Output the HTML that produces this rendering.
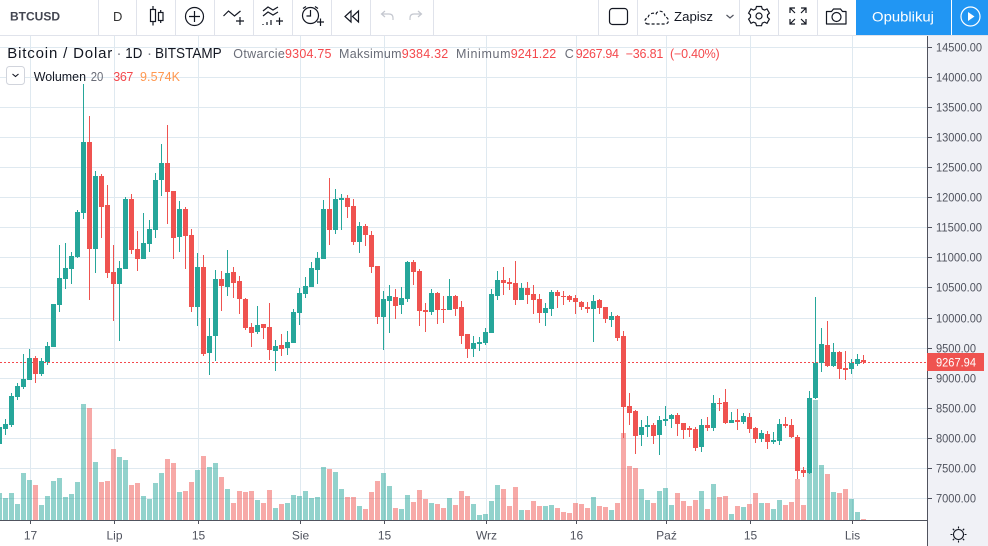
<!DOCTYPE html>
<html lang="pl">
<head>
<meta charset="utf-8">
<title>BTCUSD chart</title>
<style>
html,body{margin:0;padding:0;background:#fff;width:988px;height:546px;overflow:hidden}
svg{display:block;font-family:"Liberation Sans",sans-serif}
.ic{fill:none;stroke:#131722;stroke-width:1.2}
.sep{stroke:#e0e3eb;stroke-width:1}
.lbl{fill:#6a6d78;font-size:12.5px}
.red{fill:#f4494d;font-size:12.5px}
</style>
</head>
<body>
<svg id="chart-root" width="988" height="546" viewBox="0 0 988 546" xmlns="http://www.w3.org/2000/svg">
  <rect x="0" y="0" width="988" height="546" fill="#ffffff"/>
  <g id="grid-layer"></g>
  <g id="volume-layer"></g>
  <line id="last-price-line" x1="0" x2="927" stroke="#f4494d" stroke-width="1" stroke-dasharray="2 2"/>
  <g id="candle-layer"></g>

  <rect x="927" y="36" width="61" height="510" fill="#f0f1f6"/>
  <line x1="927.5" x2="927.5" y1="36" y2="546" stroke="#50535e"/>
  <line x1="0" x2="928" y1="520.5" y2="520.5" stroke="#50535e"/>
  <g id="price-axis-layer"></g>
  <g id="time-axis-layer"></g>
  <g id="last-price-tag">
    <rect x="927" y="353" width="57" height="18" fill="#ef5350"/>
    <text id="last-price-text" x="936" y="366.5" fill="#ffffff" font-size="12" textLength="40" lengthAdjust="spacingAndGlyphs">9267.94</text>
  </g>

  <g class="ic" style="stroke-width:1.1">
    <circle cx="958.5" cy="534.5" r="5"/>
    <path d="M958.5 526.5v2M958.5 540.5v2M950.5 534.5h2M964.5 534.5h2M952.8 528.8l1.4 1.4M962.8 538.8l1.4 1.4M952.8 540.2l1.4-1.4M962.8 530.2l1.4-1.4"/>
  </g>

  <!-- toolbar -->
  <g>
    <rect x="0" y="0" width="988" height="35" fill="#ffffff"/>
    <line x1="0" x2="988" y1="35.5" y2="35.5" class="sep"/>
    <line class="sep" x1="98.5" x2="98.5" y1="0" y2="35"/>
    <line class="sep" x1="136.5" x2="136.5" y1="0" y2="35"/>
    <line class="sep" x1="175.5" x2="175.5" y1="0" y2="35"/>
    <line class="sep" x1="214.5" x2="214.5" y1="0" y2="35"/>
    <line class="sep" x1="253.5" x2="253.5" y1="0" y2="35"/>
    <line class="sep" x1="292.5" x2="292.5" y1="0" y2="35"/>
    <line class="sep" x1="331.5" x2="331.5" y1="0" y2="35"/>
    <line class="sep" x1="370.5" x2="370.5" y1="0" y2="35"/>
    <line class="sep" x1="433.5" x2="433.5" y1="0" y2="35"/>
    <line class="sep" x1="598.5" x2="598.5" y1="0" y2="35"/>
    <line class="sep" x1="637.5" x2="637.5" y1="0" y2="35"/>
    <line class="sep" x1="739.5" x2="739.5" y1="0" y2="35"/>
    <line class="sep" x1="778.5" x2="778.5" y1="0" y2="35"/>
    <line class="sep" x1="817.5" x2="817.5" y1="0" y2="35"/>
  </g>
  <text x="10" y="20.5" font-size="12" font-weight="bold" fill="#434651">BTCUSD</text>
  <text x="113" y="21" font-size="13" fill="#333">D</text>
  <g class="ic">
    <rect x="150.5" y="9.5" width="5" height="12"/><path d="M153 6v3.500M153 21.500v4"/>
    <rect x="158.500" y="12.500" width="4.500" height="8"/><path d="M160.700 10v2.500M160.700 20.500v2.500"/>
  </g>
  <g class="ic">
    <circle cx="194.500" cy="16.500" r="9"/><path d="M194.500 11v11M189 16.500h11"/>
  </g>
  <g class="ic">
    <path d="M223.500 16l5-5 6 5 6-5"/><path d="M240 17v8M236 21h8"/>
  </g>
  <g class="ic">
    <path d="M263 11l5-4 5 3 5-3M263 16l5-4 5 3 5-3"/><path d="M263 25v-1M267 25v-3M271 25v-5M276 21h7M279.500 17.500v7.500"/>
  </g>
  <g class="ic">
    <circle cx="310.500" cy="15.500" r="8"/><path d="M310.500 10v6h-4M303 8.500l3-2M318 8.500l-3-2"/><path d="M317 22h7M320.500 18.500v7.500" />
  </g>
  <g class="ic">
    <path d="M351 11l-6 5.500 6 5.500zM358.500 11l-6 5.500 6 5.500z"/>
  </g>
  <g class="ic" style="stroke:#c4c7cf">
    <path d="M393 20v-2c0-3-2-4-4-4h-7M385 11l-3.500 3 3.500 3"/>
  </g>
  <g class="ic" style="stroke:#c4c7cf">
    <path d="M410 20v-2c0-3 2-4 4-4h7M418 11l3.500 3-3.500 3"/>
  </g>
  <rect x="609.500" y="8.500" width="18" height="16" rx="3" class="ic"/>
  <path d="M648 24c-4 0-4-6 0-6 0-4 5-6 8-4 2-5 9-3 9 3 4 0 5 7 0 7z" class="ic" stroke-dasharray="3 2"/>
  <text x="674" y="21" font-size="13" fill="#131722" textLength="39" lengthAdjust="spacingAndGlyphs">Zapisz</text>
  <path d="M726.500 15l3.500 3 3.500-3" class="ic" style="stroke:#50535e"/>
  <g class="ic">
    <circle cx="759" cy="16" r="3"/>
    <path d="M756.500 6.500h5l.8 2.600 2.300 1 2.400-1.200 2.400 4.200-1.900 1.800v2.400l1.900 1.800-2.400 4.200-2.400-1.200-2.300 1-.8 2.600h-5l-.8-2.600-2.300-1-2.400 1.200-2.400-4.200 1.900-1.800v-2.400l-1.900-1.800 2.400-4.200 2.400 1.200 2.300-1z"/>
  </g>
  <g class="ic">
    <path d="M790 13V8h5M801 8h5v5M790 19v5h5M801 24h5v-5M790.500 8.500l4.500 4.500M805.500 8.500L801 13M790.500 23.500L795 19M805.500 23.500L801 19"/>
  </g>
  <g class="ic">
    <path d="M826.500 11.500h5l2-2.500h7l2 2.500h3.500v12.500h-19.500z" stroke-linejoin="round"/><circle cx="836.500" cy="17" r="4.500"/>
  </g>
  <rect x="856" y="0" width="132" height="35" fill="#2196f3"/>
  <text x="872" y="21.500" font-size="14" fill="#ffffff" textLength="62" lengthAdjust="spacingAndGlyphs">Opublikuj</text>
  <line x1="951.500" x2="951.500" y1="0" y2="35" stroke="#ffffff" stroke-width="1"/>
  <g>
    <circle cx="970.500" cy="16.500" r="9.500" fill="none" stroke="#ffffff" stroke-width="1.200"/>
    <path d="M968 12l6.500 4.500-6.500 4.500z" fill="#ffffff"/>
  </g>

  <!-- legend -->
  <g>
    <text x="7.300" y="58" font-size="15" fill="#131722" textLength="105" lengthAdjust="spacing">Bitcoin / Dolar</text>
    <text x="116.500" y="58" font-size="15" fill="#787b86">·</text>
    <text x="125.300" y="58" font-size="15" fill="#131722" textLength="17" lengthAdjust="spacingAndGlyphs">1D</text>
    <text x="147" y="58" font-size="15" fill="#787b86">·</text>
    <text x="155" y="58" font-size="15" fill="#131722" textLength="66.700" lengthAdjust="spacingAndGlyphs">BITSTAMP</text>
    <text x="233.300" y="58" class="lbl" textLength="51.500" lengthAdjust="spacing">Otwarcie</text>
    <text x="285" y="58" class="red" textLength="46.500" lengthAdjust="spacing">9304.75</text>
    <text x="339" y="58" class="lbl" textLength="62.500" lengthAdjust="spacing">Maksimum</text>
    <text x="401.700" y="58" class="red" textLength="46.500" lengthAdjust="spacing">9384.32</text>
    <text x="456" y="58" class="lbl" textLength="54.500" lengthAdjust="spacing">Minimum</text>
    <text x="510.700" y="58" class="red" textLength="45.500" lengthAdjust="spacing">9241.22</text>
    <text x="564.700" y="58" class="lbl">C</text>
    <text x="575.700" y="58" class="red" textLength="43.300" lengthAdjust="spacing">9267.94</text>
    <text x="625.700" y="58" class="red" textLength="37.600" lengthAdjust="spacing">−36.81</text>
    <text x="670" y="58" class="red" textLength="49.700" lengthAdjust="spacing">(−0.40%)</text>
    <rect x="6.500" y="66.500" width="18" height="18" rx="3" fill="#ffffff" stroke="#d1d4dc"/>
    <path d="M12.500 74l3 2.500 3-2.500" fill="none" stroke="#131722" stroke-width="1.100"/>
    <text x="33.700" y="81" font-size="12.500" fill="#131722" textLength="52.300" lengthAdjust="spacingAndGlyphs">Wolumen</text>
    <text x="90.700" y="81" font-size="12.500" fill="#6a6d78" textLength="12.600" lengthAdjust="spacingAndGlyphs">20</text>
    <text x="113.300" y="81" font-size="12.500" fill="#f4494d" textLength="20" lengthAdjust="spacing">367</text>
    <text x="140" y="81" font-size="12.500" fill="#ff9850" textLength="40" lengthAdjust="spacing">9.574K</text>
  </g>

<script>
const priceTicks = [14500,14000,13500,13000,12500,12000,11500,11000,10500,10000,9500,9000,8500,8000,7500,7000];
const timeTickLabels = ['17','Lip','15','Sie','15','Wrz','16','Paź','15','Lis'];
const timeTickIndices = [5,19,33,50,64,81,96,111,125,142];
const lastPrice = 9267.94;

const opens = [7907,8156,8223,8688,8854,8970,9336,9070,9270,9519,10217,10648,10814,11014,11745,12925,11147,12360,11878,10765,10566,10814,11977,11147,10980,11231,11463,12294,12576,12110,11347,11811,11380,10184,10848,9419,9701,10648,10516,10765,10615,10316,9851,9768,9900,9851,9452,9552,9502,9585,10084,10399,10516,10798,10980,11811,11463,11961,11994,11862,11264,11529,11380,10865,10017,10283,10350,10217,10316,10931,10781,10134,10101,10416,10150,10134,10366,10184,9735,9485,9569,9585,9751,10366,10632,10598,10582,10300,10499,10399,10316,10084,10150,10433,10366,10366,10333,10266,10184,10150,10300,10184,9967,10034,9701,8538,8455,8056,8190,8223,8056,8289,8322,8389,8256,8173,8156,7857,8223,8173,8588,8605,8256,8306,8273,8355,8173,7990,8073,7940,7957,8240,8223,8022,7475,7425,8671,9253,9552,9203,9435,9170,9153,9236,9304.75];
const closes = [8190,8240,8704,8870,8986,9336,9070,9286,9535,10234,10665,10831,11030,11762,12925,11147,12360,11845,10748,10566,10831,11977,11130,10980,11247,11479,12294,12576,12094,11330,11811,11363,10184,10848,9403,9701,10648,10532,10748,10582,10316,9834,9751,9884,9834,9469,9535,9485,9602,10101,10416,10532,10831,10997,11811,11463,11977,11994,11845,11264,11529,11380,10848,10017,10316,10366,10200,10333,10931,10765,10117,10101,10416,10134,10134,10366,10150,9701,9485,9585,9602,9768,10399,10632,10582,10566,10300,10499,10383,10300,10084,10167,10433,10366,10350,10300,10266,10184,10150,10283,10167,9984,10034,9668,8522,8422,8039,8190,8223,8039,8306,8322,8389,8240,8139,8139,7840,8223,8173,8588,8572,8256,8306,8273,8372,8156,7990,8089,7940,7973,8240,8206,8022,7458,7425,8671,9253,9569,9203,9435,9153,9136,9253,9319,9267.94];
const highs = [8306,8322,8754,8920,9403,9485,9369,9336,9602,10234,11214,11247,11097,11795,13889,13357,12443,12394,12211,11214,10947,12011,12061,11446,11745,11629,12410,12892,13208,12110,11944,11845,11479,11080,11047,10001,10798,10781,11130,10848,10698,10333,9917,10200,9900,10250,9635,9735,9784,10150,10499,10681,10931,11097,11961,12327,12144,12061,12044,11977,11596,11563,11446,10865,10449,10549,10482,10516,10947,10964,10814,10250,10482,10433,10366,10648,10383,10283,9735,9701,9685,9834,10482,10781,10848,10665,10947,10582,10598,10549,10399,10250,10466,10466,10449,10383,10383,10283,10266,10383,10316,10184,10101,10051,9784,8754,8472,8306,8372,8256,8372,8538,8405,8422,8256,8206,8190,8322,8355,8721,8671,8820,8439,8489,8422,8422,8190,8139,8123,8106,8322,8355,8322,8056,7525,8788,10350,9834,9950,9585,9452,9452,9319,9403,9384.32];
const lows = [7873,8056,8190,8638,8820,8970,8920,9036,9220,9519,10101,10482,10566,10997,11645,10300,10748,11330,10665,9950,9618,10814,11064,10781,10980,11097,11330,12027,11563,10980,11097,10814,10101,9867,9369,9053,9286,10117,10366,10333,10068,9801,9519,9735,9652,9303,9120,9369,9386,9585,9884,10333,10516,10566,10980,11214,11397,11463,11662,11214,11080,11197,10748,9900,9469,9751,9984,10068,10266,10549,9867,9768,10051,9900,9917,10134,10034,9569,9336,9353,9452,9552,9751,10300,10383,10466,10217,10300,10234,10068,9917,9867,10034,10167,10217,10266,10068,10134,10084,9602,10068,9917,9851,9618,8006,8223,7741,7873,8022,7907,7724,8206,8173,8039,7990,8022,7790,7774,8123,8123,8455,8240,8256,8139,8240,8089,7923,7940,7824,7907,7890,8173,8006,7325,7359,7409,8654,9103,9186,9186,8986,8970,9070,9203,9241.22];
const volumesK = [10.8,8.8,10.8,6.4,18.8,16,14,6,9.6,15.6,16.8,9.2,10.4,15.2,46.4,44.8,23.2,15.2,15.6,28.4,25.2,24,14,14.8,9.6,8.4,14.8,18.8,24.4,22.8,11.2,11.6,15.2,20,25.6,21.2,22.8,17.2,12.4,6.8,11.6,11.2,11.6,8,6.8,12,4.8,6.4,6.8,10,9.6,11.6,8.8,9.2,21.2,20.4,19.2,12.4,9.2,9.2,5.6,4.4,11.2,15.6,18.8,13.6,4.8,4.4,10,7.2,12,8.4,6.8,6.4,4.8,8.8,6,11.6,9.6,6.4,2,2.4,7.6,14,12.4,5.6,13.2,4,4,7.6,5.6,5.6,6,4.8,3.2,2.8,6.8,6.4,4.8,9.2,5.6,5.2,4,6.8,34.8,21.6,20.8,12.4,8,6.8,11.6,12.8,6,10.8,7.6,5.6,8,11.6,4.4,14.4,9.2,9.6,2.4,5.6,5.2,6.4,10.8,6.8,6.8,4.4,8,6,7.2,16.4,6,18.8,48,22,18.4,11.2,10.8,12.4,8.4,3.2,0.367];

const NS = 'http://www.w3.org/2000/svg';
function xScale(i) { return -0.5 + 6 * i; }
function yScale(p) { return 408.3 + (8500 - p) * 0.06018; }
function volScale(v) { return 520 - v * 2.5; }
function rect(parent, x, y, w, h, fill) {
  const r = document.createElementNS(NS, 'rect');
  r.setAttribute('x', x);
  r.setAttribute('y', y);
  r.setAttribute('width', w);
  r.setAttribute('height', h);
  r.setAttribute('fill', fill);
  r.setAttribute('shape-rendering', 'crispEdges');
  parent.appendChild(r);
  return r;
}
function label(parent, x, y, txt, anchor, size) {
  const t = document.createElementNS(NS, 'text');
  t.setAttribute('x', x);
  t.setAttribute('y', y);
  t.setAttribute('fill', '#50535e');
  t.setAttribute('font-size', size);
  t.setAttribute('text-anchor', anchor);
  t.textContent = txt;
  parent.appendChild(t);
  return t;
}

const gridLayer = document.getElementById('grid-layer');
const priceAxisLayer = document.getElementById('price-axis-layer');
const timeAxisLayer = document.getElementById('time-axis-layer');
const volumeLayer = document.getElementById('volume-layer');
const candleLayer = document.getElementById('candle-layer');
const GRID = '#dfe9f0';

priceTicks.forEach(function (p) {
  const y = Math.floor(yScale(p));
  const g = rect(gridLayer, 0, y, 927, 1, GRID);
  
  
  const m = rect(priceAxisLayer, 927, y, 5, 1, '#50535e');
  
  
  const t = label(priceAxisLayer, 936, y + 4.5, p.toFixed(2), 'start', 11.5);
  t.setAttribute('textLength', p >= 10000 ? 46 : 40);
  t.setAttribute('lengthAdjust', 'spacingAndGlyphs');
  
  
});

timeTickIndices.forEach(function (idx, n) {
  const x = xScale(idx) + 0.5;
  const g = rect(gridLayer, x, 36, 1, 484, GRID);
  
  
  const m = rect(timeAxisLayer, x, 520, 1, 4, '#50535e');
  
  
  const t = label(timeAxisLayer, x + 0.5, 539.5, timeTickLabels[n], 'middle', 12);
  
  
});

closes.forEach(function (c, i) {
  const up = c >= opens[i];
  const cx = xScale(i);
  const top = Math.max(volScale(volumesK[i]), 36);
  const vb = rect(volumeLayer, cx - 2.5, Math.round(top), 5, Math.max(1, 520 - Math.round(top)), up ? 'rgba(38,166,154,0.5)' : 'rgba(239,83,80,0.5)');
  
  

  const color = up ? '#26a69a' : '#ef5350';
  const hy = Math.round(yScale(highs[i]));
  const ly = Math.round(yScale(lows[i]));
  const wick = rect(candleLayer, cx - 0.5, hy, 1, Math.max(1, ly - hy), color);
  
  
  const by1 = Math.round(yScale(Math.max(opens[i], c)));
  const by2 = Math.round(yScale(Math.min(opens[i], c)));
  const body = rect(candleLayer, cx - 2.5, by1, 5, Math.max(1, by2 - by1), color);
  
  
});

const lastY = Math.floor(yScale(lastPrice)) + 0.5;
const lastLine = document.getElementById('last-price-line');
lastLine.setAttribute('y1', lastY);
lastLine.setAttribute('y2', lastY);
</script>
</svg>
</body>
</html>
